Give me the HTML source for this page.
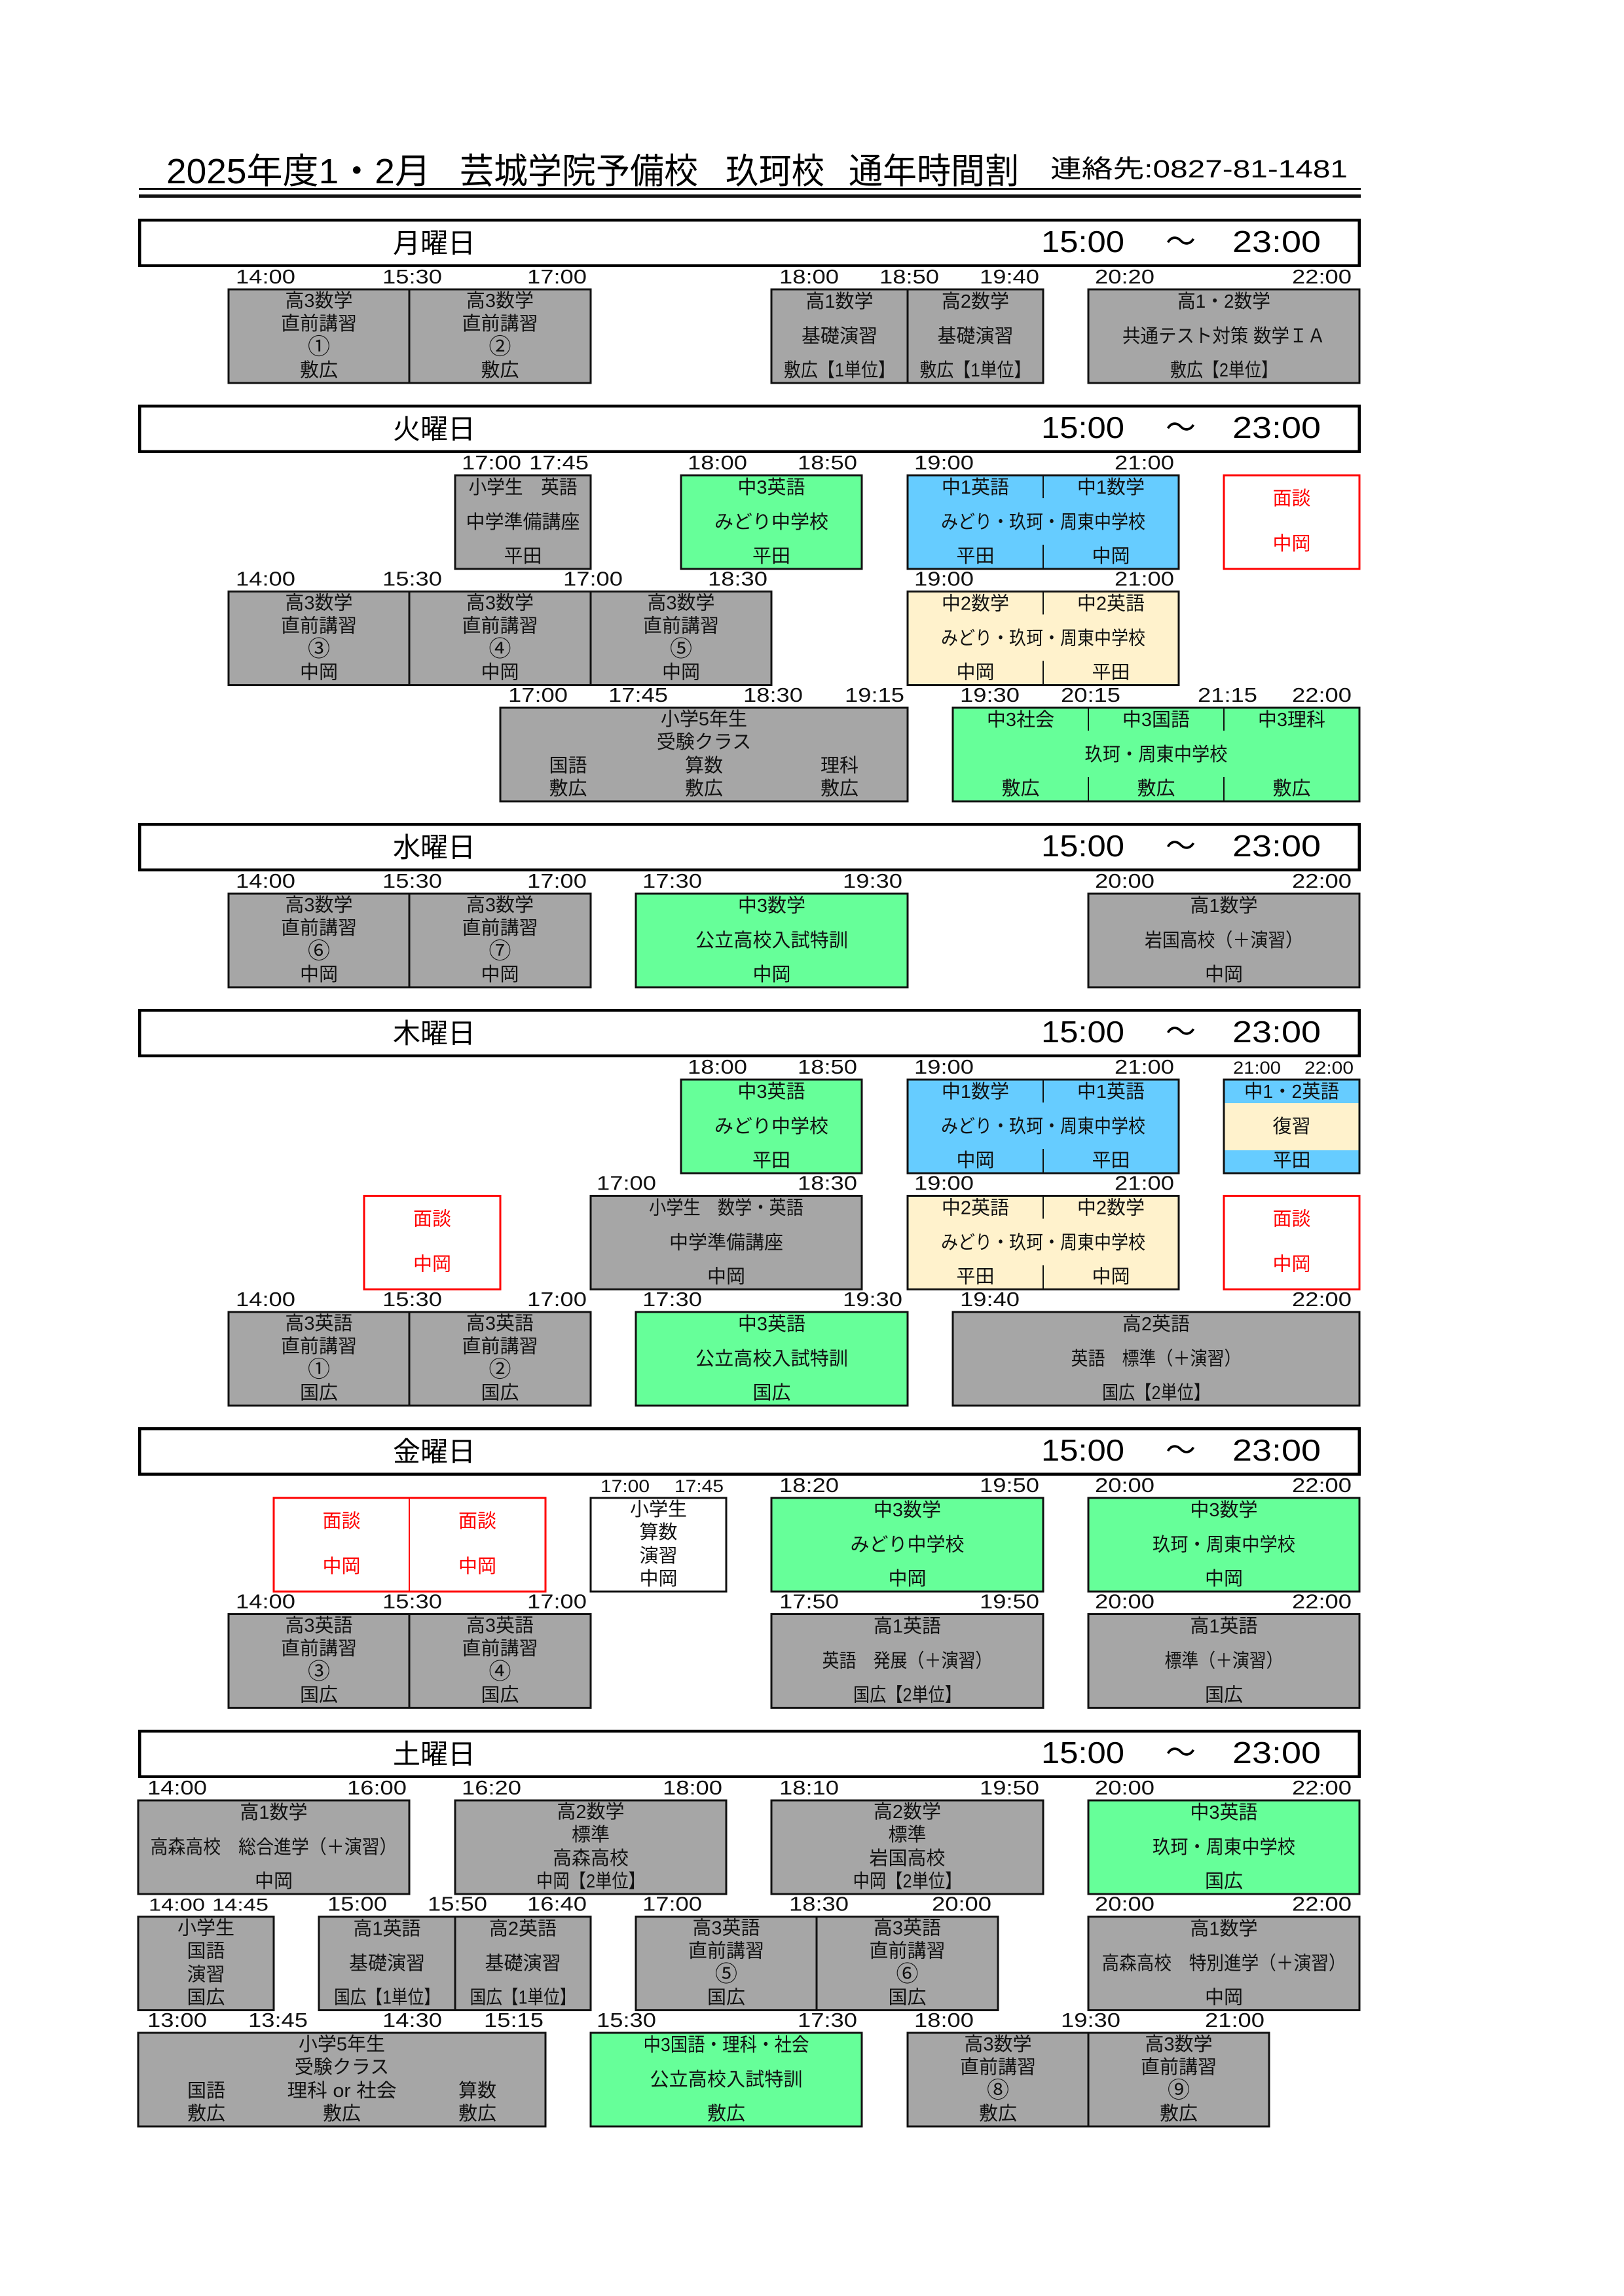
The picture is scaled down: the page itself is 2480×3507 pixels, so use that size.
<!DOCTYPE html>
<html><head><meta charset="utf-8"><style>
html,body{margin:0;padding:0;background:#fff;}
svg{display:block}
text{font-family:"Liberation Sans","Noto Sans CJK JP",sans-serif;fill:#111}
.c{font-size:29px;text-anchor:middle}
.cn{font-size:34px}
.l{font-size:31px}
.s{font-size:27px}
.d{font-size:42px;text-anchor:middle;fill:#000}
.h{font-size:46px;fill:#000}
.tt{font-size:54px;fill:#000}
.rt{fill:#f00}
.b{stroke:#111;stroke-width:3}
.g{fill:#a6a6a6}
.gr{fill:#66ff99}
.bl{fill:#66ccff}
.be{fill:#fff2cc}
.w{fill:#fff}
.r{fill:#fff;stroke:#f00;stroke-width:3}
.dv{stroke:#111;stroke-width:2}
.hb{fill:#fff;stroke:#000;stroke-width:4.5}
</style></head><body>
<svg width="2480" height="3507" viewBox="0 0 2480 3507" xmlns="http://www.w3.org/2000/svg">
<rect x="0" y="0" width="2480" height="3507" fill="#fff"/>

<!-- Title -->
<text class="tt" x="254" y="280" textLength="404" lengthAdjust="spacingAndGlyphs">2025年度1・2月</text>
<text class="tt" x="702" y="280" textLength="364" lengthAdjust="spacingAndGlyphs">芸城学院予備校</text>
<text class="tt" x="1108" y="280" textLength="151" lengthAdjust="spacingAndGlyphs">玖珂校</text>
<text class="tt" x="1296" y="280" textLength="260" lengthAdjust="spacingAndGlyphs">通年時間割</text>
<text x="1604" y="271" style="font-size:38px;fill:#000" textLength="454" lengthAdjust="spacingAndGlyphs">連絡先:0827-81-1481</text>
<rect x="212" y="287" width="1866" height="3" fill="#111"/>
<rect x="212" y="297" width="1866" height="5" fill="#111"/>

<!-- Headers -->
<rect class="hb" x="213.25" y="336.25" width="1862.5" height="69.5"/>
<text class="d" x="663" y="386">月曜日</text>
<text class="h" x="1590" y="385" textLength="127" lengthAdjust="spacingAndGlyphs">15:00</text>
<text class="h" x="1803" y="385" text-anchor="middle">～</text>
<text class="h" x="1882" y="385" textLength="135" lengthAdjust="spacingAndGlyphs">23:00</text>

<rect class="hb" x="213.25" y="620.25" width="1862.5" height="69.5"/>
<text class="d" x="663" y="670">火曜日</text>
<text class="h" x="1590" y="669" textLength="127" lengthAdjust="spacingAndGlyphs">15:00</text>
<text class="h" x="1803" y="669" text-anchor="middle">～</text>
<text class="h" x="1882" y="669" textLength="135" lengthAdjust="spacingAndGlyphs">23:00</text>

<rect class="hb" x="213.25" y="1259.25" width="1862.5" height="69.5"/>
<text class="d" x="663" y="1309">水曜日</text>
<text class="h" x="1590" y="1308" textLength="127" lengthAdjust="spacingAndGlyphs">15:00</text>
<text class="h" x="1803" y="1308" text-anchor="middle">～</text>
<text class="h" x="1882" y="1308" textLength="135" lengthAdjust="spacingAndGlyphs">23:00</text>

<rect class="hb" x="213.25" y="1543.25" width="1862.5" height="69.5"/>
<text class="d" x="663" y="1593">木曜日</text>
<text class="h" x="1590" y="1592" textLength="127" lengthAdjust="spacingAndGlyphs">15:00</text>
<text class="h" x="1803" y="1592" text-anchor="middle">～</text>
<text class="h" x="1882" y="1592" textLength="135" lengthAdjust="spacingAndGlyphs">23:00</text>

<rect class="hb" x="213.25" y="2182.25" width="1862.5" height="69.5"/>
<text class="d" x="663" y="2232">金曜日</text>
<text class="h" x="1590" y="2231" textLength="127" lengthAdjust="spacingAndGlyphs">15:00</text>
<text class="h" x="1803" y="2231" text-anchor="middle">～</text>
<text class="h" x="1882" y="2231" textLength="135" lengthAdjust="spacingAndGlyphs">23:00</text>

<rect class="hb" x="213.25" y="2644.25" width="1862.5" height="69.5"/>
<text class="d" x="663" y="2694">土曜日</text>
<text class="h" x="1590" y="2693" textLength="127" lengthAdjust="spacingAndGlyphs">15:00</text>
<text class="h" x="1803" y="2693" text-anchor="middle">～</text>
<text class="h" x="1882" y="2693" textLength="135" lengthAdjust="spacingAndGlyphs">23:00</text>

<!-- ===== MONDAY ===== -->
<text class="l" x="360" y="433" textLength="91" lengthAdjust="spacingAndGlyphs">14:00</text>
<text class="l" x="584" y="433" textLength="91" lengthAdjust="spacingAndGlyphs">15:30</text>
<text class="l" x="805" y="433" textLength="91" lengthAdjust="spacingAndGlyphs">17:00</text>
<text class="l" x="1190" y="433" textLength="91" lengthAdjust="spacingAndGlyphs">18:00</text>
<text class="l" x="1343" y="433" textLength="91" lengthAdjust="spacingAndGlyphs">18:50</text>
<text class="l" x="1496" y="433" textLength="91" lengthAdjust="spacingAndGlyphs">19:40</text>
<text class="l" x="1672" y="433" textLength="91" lengthAdjust="spacingAndGlyphs">20:20</text>
<text class="l" x="1973" y="433" textLength="91" lengthAdjust="spacingAndGlyphs">22:00</text>

<rect class="g b" x="349" y="442" width="276" height="143"/>
<rect class="g b" x="625" y="442" width="277" height="143"/>
<rect class="g b" x="1178" y="442" width="208" height="143"/>
<rect class="g b" x="1386" y="442" width="207" height="143"/>
<rect class="g b" x="1662" y="442" width="414" height="143"/>
<text class="c" x="487" y="469">高3数学</text><text class="c" x="487" y="504">直前講習</text><text class="c cn" x="487" y="541">①</text><text class="c" x="487" y="575">敷広</text>
<text class="c" x="763.5" y="469">高3数学</text><text class="c" x="763.5" y="504">直前講習</text><text class="c cn" x="763.5" y="541">②</text><text class="c" x="763.5" y="575">敷広</text>
<text class="c" x="1282" y="470">高1数学</text><text class="c" x="1282" y="523">基礎演習</text><text class="c" x="1282" y="575" textLength="170" lengthAdjust="spacingAndGlyphs">敷広【1単位】</text>
<text class="c" x="1489.5" y="470">高2数学</text><text class="c" x="1489.5" y="523">基礎演習</text><text class="c" x="1489.5" y="575" textLength="170" lengthAdjust="spacingAndGlyphs">敷広【1単位】</text>
<text class="c" x="1869" y="470" textLength="142" lengthAdjust="spacingAndGlyphs">高1・2数学</text><text class="c" x="1869" y="523" textLength="310" lengthAdjust="spacingAndGlyphs">共通テスト対策 数学ＩＡ</text><text class="c" x="1869" y="575" textLength="164" lengthAdjust="spacingAndGlyphs">敷広【2単位】</text>

<!-- ===== TUESDAY row1 ===== -->
<text class="l" x="705" y="717" textLength="91" lengthAdjust="spacingAndGlyphs">17:00</text>
<text class="l" x="808" y="717" textLength="91" lengthAdjust="spacingAndGlyphs">17:45</text>
<text class="l" x="1050" y="717" textLength="91" lengthAdjust="spacingAndGlyphs">18:00</text>
<text class="l" x="1218" y="717" textLength="91" lengthAdjust="spacingAndGlyphs">18:50</text>
<text class="l" x="1396" y="717" textLength="91" lengthAdjust="spacingAndGlyphs">19:00</text>
<text class="l" x="1702" y="717" textLength="91" lengthAdjust="spacingAndGlyphs">21:00</text>

<rect class="g b" x="695" y="726" width="207" height="143"/>
<rect class="gr b" x="1040" y="726" width="276" height="143"/>
<rect class="bl b" x="1386" y="726" width="414" height="143"/>
<line class="dv" x1="1593" y1="726" x2="1593" y2="761"/><line class="dv" x1="1593" y1="832" x2="1593" y2="869"/>
<rect class="r" x="1869" y="726" width="207" height="143"/>
<text class="c" x="798.5" y="754" textLength="166" lengthAdjust="spacingAndGlyphs">小学生　英語</text><text class="c" x="798.5" y="807">中学準備講座</text><text class="c" x="798.5" y="859">平田</text>
<text class="c" x="1178" y="754">中3英語</text><text class="c" x="1178" y="807">みどり中学校</text><text class="c" x="1178" y="859">平田</text>
<text class="c" x="1489.5" y="754">中1英語</text><text class="c" x="1696.5" y="754">中1数学</text>
<text class="c" x="1593" y="807" textLength="312" lengthAdjust="spacingAndGlyphs">みどり・玖珂・周東中学校</text>
<text class="c" x="1489.5" y="859">平田</text><text class="c" x="1696.5" y="859">中岡</text>
<text class="c rt" x="1972.5" y="771">面談</text><text class="c rt" x="1972.5" y="840">中岡</text>

<!-- TUESDAY row2 -->
<text class="l" x="360" y="894.5" textLength="91" lengthAdjust="spacingAndGlyphs">14:00</text>
<text class="l" x="584" y="894.5" textLength="91" lengthAdjust="spacingAndGlyphs">15:30</text>
<text class="l" x="860" y="894.5" textLength="91" lengthAdjust="spacingAndGlyphs">17:00</text>
<text class="l" x="1081" y="894.5" textLength="91" lengthAdjust="spacingAndGlyphs">18:30</text>
<text class="l" x="1396" y="894.5" textLength="91" lengthAdjust="spacingAndGlyphs">19:00</text>
<text class="l" x="1702" y="894.5" textLength="91" lengthAdjust="spacingAndGlyphs">21:00</text>

<rect class="g b" x="349" y="903.5" width="276" height="143"/>
<rect class="g b" x="625" y="903.5" width="277" height="143"/>
<rect class="g b" x="902" y="903.5" width="276" height="143"/>
<rect class="be b" x="1386" y="903.5" width="414" height="143"/>
<line class="dv" x1="1593" y1="903.5" x2="1593" y2="938.5"/><line class="dv" x1="1593" y1="1009.5" x2="1593" y2="1046.5"/>
<text class="c" x="487" y="930.5">高3数学</text><text class="c" x="487" y="965.5">直前講習</text><text class="c cn" x="487" y="1002.5">③</text><text class="c" x="487" y="1036.5">中岡</text>
<text class="c" x="763.5" y="930.5">高3数学</text><text class="c" x="763.5" y="965.5">直前講習</text><text class="c cn" x="763.5" y="1002.5">④</text><text class="c" x="763.5" y="1036.5">中岡</text>
<text class="c" x="1040" y="930.5">高3数学</text><text class="c" x="1040" y="965.5">直前講習</text><text class="c cn" x="1040" y="1002.5">⑤</text><text class="c" x="1040" y="1036.5">中岡</text>
<text class="c" x="1489.5" y="931.5">中2数学</text><text class="c" x="1696.5" y="931.5">中2英語</text>
<text class="c" x="1593" y="984.5" textLength="312" lengthAdjust="spacingAndGlyphs">みどり・玖珂・周東中学校</text>
<text class="c" x="1489.5" y="1036.5">中岡</text><text class="c" x="1696.5" y="1036.5">平田</text>

<!-- TUESDAY row3 -->
<text class="l" x="776" y="1072" textLength="91" lengthAdjust="spacingAndGlyphs">17:00</text>
<text class="l" x="929" y="1072" textLength="91" lengthAdjust="spacingAndGlyphs">17:45</text>
<text class="l" x="1135" y="1072" textLength="91" lengthAdjust="spacingAndGlyphs">18:30</text>
<text class="l" x="1290" y="1072" textLength="91" lengthAdjust="spacingAndGlyphs">19:15</text>
<text class="l" x="1466" y="1072" textLength="91" lengthAdjust="spacingAndGlyphs">19:30</text>
<text class="l" x="1620" y="1072" textLength="91" lengthAdjust="spacingAndGlyphs">20:15</text>
<text class="l" x="1829" y="1072" textLength="91" lengthAdjust="spacingAndGlyphs">21:15</text>
<text class="l" x="1973" y="1072" textLength="91" lengthAdjust="spacingAndGlyphs">22:00</text>

<rect class="g b" x="764" y="1081" width="622" height="143"/>
<rect class="gr b" x="1455" y="1081" width="621" height="143"/>
<line class="dv" x1="1662" y1="1081" x2="1662" y2="1116"/><line class="dv" x1="1662" y1="1187" x2="1662" y2="1224"/>
<line class="dv" x1="1869" y1="1081" x2="1869" y2="1116"/><line class="dv" x1="1869" y1="1187" x2="1869" y2="1224"/>
<text class="c" x="1075" y="1108">小学5年生</text><text class="c" x="1075" y="1143">受験クラス</text>
<text class="c" x="867.5" y="1179">国語</text><text class="c" x="1075" y="1179">算数</text><text class="c" x="1282" y="1179">理科</text>
<text class="c" x="867.5" y="1214">敷広</text><text class="c" x="1075" y="1214">敷広</text><text class="c" x="1282" y="1214">敷広</text>
<text class="c" x="1558.5" y="1109">中3社会</text><text class="c" x="1765.5" y="1109">中3国語</text><text class="c" x="1972.5" y="1109">中3理科</text>
<text class="c" x="1765.5" y="1162" textLength="218" lengthAdjust="spacingAndGlyphs">玖珂・周東中学校</text>
<text class="c" x="1558.5" y="1214">敷広</text><text class="c" x="1765.5" y="1214">敷広</text><text class="c" x="1972.5" y="1214">敷広</text>

<!-- ===== WEDNESDAY ===== -->
<text class="l" x="360" y="1356" textLength="91" lengthAdjust="spacingAndGlyphs">14:00</text>
<text class="l" x="584" y="1356" textLength="91" lengthAdjust="spacingAndGlyphs">15:30</text>
<text class="l" x="805" y="1356" textLength="91" lengthAdjust="spacingAndGlyphs">17:00</text>
<text class="l" x="981" y="1356" textLength="91" lengthAdjust="spacingAndGlyphs">17:30</text>
<text class="l" x="1287" y="1356" textLength="91" lengthAdjust="spacingAndGlyphs">19:30</text>
<text class="l" x="1672" y="1356" textLength="91" lengthAdjust="spacingAndGlyphs">20:00</text>
<text class="l" x="1973" y="1356" textLength="91" lengthAdjust="spacingAndGlyphs">22:00</text>

<rect class="g b" x="349" y="1365" width="276" height="143"/>
<rect class="g b" x="625" y="1365" width="277" height="143"/>
<rect class="gr b" x="971" y="1365" width="415" height="143"/>
<rect class="g b" x="1662" y="1365" width="414" height="143"/>
<text class="c" x="487" y="1392">高3数学</text><text class="c" x="487" y="1427">直前講習</text><text class="c cn" x="487" y="1464">⑥</text><text class="c" x="487" y="1498">中岡</text>
<text class="c" x="763.5" y="1392">高3数学</text><text class="c" x="763.5" y="1427">直前講習</text><text class="c cn" x="763.5" y="1464">⑦</text><text class="c" x="763.5" y="1498">中岡</text>
<text class="c" x="1178.5" y="1393">中3数学</text><text class="c" x="1178.5" y="1446" textLength="233" lengthAdjust="spacingAndGlyphs">公立高校入試特訓</text><text class="c" x="1178.5" y="1498">中岡</text>
<text class="c" x="1869" y="1393">高1数学</text><text class="c" x="1869" y="1446" textLength="242" lengthAdjust="spacingAndGlyphs">岩国高校（＋演習）</text><text class="c" x="1869" y="1498">中岡</text>

<!-- ===== THURSDAY row1 ===== -->
<text class="l" x="1050" y="1640" textLength="91" lengthAdjust="spacingAndGlyphs">18:00</text>
<text class="l" x="1218" y="1640" textLength="91" lengthAdjust="spacingAndGlyphs">18:50</text>
<text class="l" x="1396" y="1640" textLength="91" lengthAdjust="spacingAndGlyphs">19:00</text>
<text class="l" x="1702" y="1640" textLength="91" lengthAdjust="spacingAndGlyphs">21:00</text>
<text class="s" x="1883" y="1640" textLength="73" lengthAdjust="spacingAndGlyphs">21:00</text>
<text class="s" x="1992" y="1640" textLength="75" lengthAdjust="spacingAndGlyphs">22:00</text>

<rect class="gr b" x="1040" y="1649" width="276" height="143"/>
<rect class="bl b" x="1386" y="1649" width="414" height="143"/>
<line class="dv" x1="1593" y1="1649" x2="1593" y2="1684"/><line class="dv" x1="1593" y1="1755" x2="1593" y2="1792"/>
<rect class="bl" x="1869" y="1649" width="207" height="143"/>
<rect class="be" x="1869" y="1685" width="207" height="72"/>
<rect x="1869" y="1649" width="207" height="143" fill="none" class="b"/>
<text class="c" x="1178" y="1677">中3英語</text><text class="c" x="1178" y="1730">みどり中学校</text><text class="c" x="1178" y="1782">平田</text>
<text class="c" x="1489.5" y="1677">中1数学</text><text class="c" x="1696.5" y="1677">中1英語</text>
<text class="c" x="1593" y="1730" textLength="312" lengthAdjust="spacingAndGlyphs">みどり・玖珂・周東中学校</text>
<text class="c" x="1489.5" y="1782">中岡</text><text class="c" x="1696.5" y="1782">平田</text>
<text class="c" x="1972.5" y="1677" textLength="145" lengthAdjust="spacingAndGlyphs">中1・2英語</text><text class="c" x="1972.5" y="1730">復習</text><text class="c" x="1972.5" y="1782">平田</text>

<!-- THURSDAY row2 -->
<text class="l" x="911" y="1817.5" textLength="91" lengthAdjust="spacingAndGlyphs">17:00</text>
<text class="l" x="1218" y="1817.5" textLength="91" lengthAdjust="spacingAndGlyphs">18:30</text>
<text class="l" x="1396" y="1817.5" textLength="91" lengthAdjust="spacingAndGlyphs">19:00</text>
<text class="l" x="1702" y="1817.5" textLength="91" lengthAdjust="spacingAndGlyphs">21:00</text>

<rect class="r" x="556" y="1826.5" width="208" height="143"/>
<rect class="g b" x="902" y="1826.5" width="414" height="143"/>
<rect class="be b" x="1386" y="1826.5" width="414" height="143"/>
<line class="dv" x1="1593" y1="1826.5" x2="1593" y2="1861.5"/><line class="dv" x1="1593" y1="1932.5" x2="1593" y2="1969.5"/>
<rect class="r" x="1869" y="1826.5" width="207" height="143"/>
<text class="c rt" x="660" y="1871.5">面談</text><text class="c rt" x="660" y="1940.5">中岡</text>
<text class="c" x="1109" y="1854.5" textLength="236" lengthAdjust="spacingAndGlyphs">小学生　数学・英語</text><text class="c" x="1109" y="1907.5">中学準備講座</text><text class="c" x="1109" y="1959.5">中岡</text>
<text class="c" x="1489.5" y="1854.5">中2英語</text><text class="c" x="1696.5" y="1854.5">中2数学</text>
<text class="c" x="1593" y="1907.5" textLength="312" lengthAdjust="spacingAndGlyphs">みどり・玖珂・周東中学校</text>
<text class="c" x="1489.5" y="1959.5">平田</text><text class="c" x="1696.5" y="1959.5">中岡</text>
<text class="c rt" x="1972.5" y="1871.5">面談</text><text class="c rt" x="1972.5" y="1940.5">中岡</text>

<!-- THURSDAY row3 -->
<text class="l" x="360" y="1995" textLength="91" lengthAdjust="spacingAndGlyphs">14:00</text>
<text class="l" x="584" y="1995" textLength="91" lengthAdjust="spacingAndGlyphs">15:30</text>
<text class="l" x="805" y="1995" textLength="91" lengthAdjust="spacingAndGlyphs">17:00</text>
<text class="l" x="981" y="1995" textLength="91" lengthAdjust="spacingAndGlyphs">17:30</text>
<text class="l" x="1287" y="1995" textLength="91" lengthAdjust="spacingAndGlyphs">19:30</text>
<text class="l" x="1466" y="1995" textLength="91" lengthAdjust="spacingAndGlyphs">19:40</text>
<text class="l" x="1973" y="1995" textLength="91" lengthAdjust="spacingAndGlyphs">22:00</text>

<rect class="g b" x="349" y="2004" width="276" height="143"/>
<rect class="g b" x="625" y="2004" width="277" height="143"/>
<rect class="gr b" x="971" y="2004" width="415" height="143"/>
<rect class="g b" x="1455" y="2004" width="621" height="143"/>
<text class="c" x="487" y="2031">高3英語</text><text class="c" x="487" y="2066">直前講習</text><text class="c cn" x="487" y="2103">①</text><text class="c" x="487" y="2137">国広</text>
<text class="c" x="763.5" y="2031">高3英語</text><text class="c" x="763.5" y="2066">直前講習</text><text class="c cn" x="763.5" y="2103">②</text><text class="c" x="763.5" y="2137">国広</text>
<text class="c" x="1178.5" y="2032">中3英語</text><text class="c" x="1178.5" y="2085" textLength="233" lengthAdjust="spacingAndGlyphs">公立高校入試特訓</text><text class="c" x="1178.5" y="2137">国広</text>
<text class="c" x="1765.5" y="2032">高2英語</text><text class="c" x="1765.5" y="2085" textLength="260" lengthAdjust="spacingAndGlyphs">英語　標準（＋演習）</text><text class="c" x="1765.5" y="2137" textLength="165" lengthAdjust="spacingAndGlyphs">国広【2単位】</text>

<!-- ===== FRIDAY row1 ===== -->
<text class="s" x="917" y="2279" textLength="75" lengthAdjust="spacingAndGlyphs">17:00</text>
<text class="s" x="1030" y="2279" textLength="75" lengthAdjust="spacingAndGlyphs">17:45</text>
<text class="l" x="1190" y="2279" textLength="91" lengthAdjust="spacingAndGlyphs">18:20</text>
<text class="l" x="1496" y="2279" textLength="91" lengthAdjust="spacingAndGlyphs">19:50</text>
<text class="l" x="1672" y="2279" textLength="91" lengthAdjust="spacingAndGlyphs">20:00</text>
<text class="l" x="1973" y="2279" textLength="91" lengthAdjust="spacingAndGlyphs">22:00</text>

<rect class="r" x="418" y="2288" width="415" height="143"/>
<line x1="625" y1="2288" x2="625" y2="2431" stroke="#f00" stroke-width="2"/>
<rect class="w b" x="902" y="2288" width="207" height="143"/>
<rect class="gr b" x="1178" y="2288" width="415" height="143"/>
<rect class="gr b" x="1662" y="2288" width="414" height="143"/>
<text class="c rt" x="521.5" y="2333">面談</text><text class="c rt" x="521.5" y="2402">中岡</text>
<text class="c rt" x="729" y="2333">面談</text><text class="c rt" x="729" y="2402">中岡</text>
<text class="c" x="1005.5" y="2315">小学生</text><text class="c" x="1005.5" y="2350">算数</text><text class="c" x="1005.5" y="2386">演習</text><text class="c" x="1005.5" y="2421">中岡</text>
<text class="c" x="1385.5" y="2316">中3数学</text><text class="c" x="1385.5" y="2369">みどり中学校</text><text class="c" x="1385.5" y="2421">中岡</text>
<text class="c" x="1869" y="2316">中3数学</text><text class="c" x="1869" y="2369" textLength="218" lengthAdjust="spacingAndGlyphs">玖珂・周東中学校</text><text class="c" x="1869" y="2421">中岡</text>

<!-- FRIDAY row2 -->
<text class="l" x="360" y="2456.5" textLength="91" lengthAdjust="spacingAndGlyphs">14:00</text>
<text class="l" x="584" y="2456.5" textLength="91" lengthAdjust="spacingAndGlyphs">15:30</text>
<text class="l" x="805" y="2456.5" textLength="91" lengthAdjust="spacingAndGlyphs">17:00</text>
<text class="l" x="1190" y="2456.5" textLength="91" lengthAdjust="spacingAndGlyphs">17:50</text>
<text class="l" x="1496" y="2456.5" textLength="91" lengthAdjust="spacingAndGlyphs">19:50</text>
<text class="l" x="1672" y="2456.5" textLength="91" lengthAdjust="spacingAndGlyphs">20:00</text>
<text class="l" x="1973" y="2456.5" textLength="91" lengthAdjust="spacingAndGlyphs">22:00</text>

<rect class="g b" x="349" y="2465.5" width="276" height="143"/>
<rect class="g b" x="625" y="2465.5" width="277" height="143"/>
<rect class="g b" x="1178" y="2465.5" width="415" height="143"/>
<rect class="g b" x="1662" y="2465.5" width="414" height="143"/>
<text class="c" x="487" y="2492.5">高3英語</text><text class="c" x="487" y="2527.5">直前講習</text><text class="c cn" x="487" y="2564.5">③</text><text class="c" x="487" y="2598.5">国広</text>
<text class="c" x="763.5" y="2492.5">高3英語</text><text class="c" x="763.5" y="2527.5">直前講習</text><text class="c cn" x="763.5" y="2564.5">④</text><text class="c" x="763.5" y="2598.5">国広</text>
<text class="c" x="1385.5" y="2493.5">高1英語</text><text class="c" x="1385.5" y="2546.5" textLength="260" lengthAdjust="spacingAndGlyphs">英語　発展（＋演習）</text><text class="c" x="1385.5" y="2598.5" textLength="165" lengthAdjust="spacingAndGlyphs">国広【2単位】</text>
<text class="c" x="1869" y="2493.5">高1英語</text><text class="c" x="1869" y="2546.5" textLength="181" lengthAdjust="spacingAndGlyphs">標準（＋演習）</text><text class="c" x="1869" y="2598.5">国広</text>

<!-- ===== SATURDAY row1 ===== -->
<text class="l" x="225" y="2741" textLength="91" lengthAdjust="spacingAndGlyphs">14:00</text>
<text class="l" x="530" y="2741" textLength="91" lengthAdjust="spacingAndGlyphs">16:00</text>
<text class="l" x="705" y="2741" textLength="91" lengthAdjust="spacingAndGlyphs">16:20</text>
<text class="l" x="1012" y="2741" textLength="91" lengthAdjust="spacingAndGlyphs">18:00</text>
<text class="l" x="1190" y="2741" textLength="91" lengthAdjust="spacingAndGlyphs">18:10</text>
<text class="l" x="1496" y="2741" textLength="91" lengthAdjust="spacingAndGlyphs">19:50</text>
<text class="l" x="1672" y="2741" textLength="91" lengthAdjust="spacingAndGlyphs">20:00</text>
<text class="l" x="1973" y="2741" textLength="91" lengthAdjust="spacingAndGlyphs">22:00</text>

<rect class="g b" x="211" y="2750" width="414" height="143"/>
<rect class="g b" x="695" y="2750" width="414" height="143"/>
<rect class="g b" x="1178" y="2750" width="415" height="143"/>
<rect class="gr b" x="1662" y="2750" width="414" height="143"/>
<text class="c" x="418" y="2778">高1数学</text><text class="c" x="418" y="2831" textLength="377" lengthAdjust="spacingAndGlyphs">高森高校　総合進学（＋演習）</text><text class="c" x="418" y="2883">中岡</text>
<text class="c" x="902" y="2777">高2数学</text><text class="c" x="902" y="2812">標準</text><text class="c" x="902" y="2848">高森高校</text><text class="c" x="902" y="2883" textLength="166" lengthAdjust="spacingAndGlyphs">中岡【2単位】</text>
<text class="c" x="1385.5" y="2777">高2数学</text><text class="c" x="1385.5" y="2812">標準</text><text class="c" x="1385.5" y="2848">岩国高校</text><text class="c" x="1385.5" y="2883" textLength="166" lengthAdjust="spacingAndGlyphs">中岡【2単位】</text>
<text class="c" x="1869" y="2778">中3英語</text><text class="c" x="1869" y="2831" textLength="218" lengthAdjust="spacingAndGlyphs">玖珂・周東中学校</text><text class="c" x="1869" y="2883">国広</text>

<!-- SATURDAY row2 -->
<text class="s" x="227" y="2918.5" textLength="86" lengthAdjust="spacingAndGlyphs">14:00</text>
<text class="s" x="324" y="2918.5" textLength="86" lengthAdjust="spacingAndGlyphs">14:45</text>
<text class="l" x="500" y="2918.5" textLength="91" lengthAdjust="spacingAndGlyphs">15:00</text>
<text class="l" x="653" y="2918.5" textLength="91" lengthAdjust="spacingAndGlyphs">15:50</text>
<text class="l" x="805" y="2918.5" textLength="91" lengthAdjust="spacingAndGlyphs">16:40</text>
<text class="l" x="981" y="2918.5" textLength="91" lengthAdjust="spacingAndGlyphs">17:00</text>
<text class="l" x="1205" y="2918.5" textLength="91" lengthAdjust="spacingAndGlyphs">18:30</text>
<text class="l" x="1423" y="2918.5" textLength="91" lengthAdjust="spacingAndGlyphs">20:00</text>
<text class="l" x="1672" y="2918.5" textLength="91" lengthAdjust="spacingAndGlyphs">20:00</text>
<text class="l" x="1973" y="2918.5" textLength="91" lengthAdjust="spacingAndGlyphs">22:00</text>

<rect class="g b" x="211" y="2927.5" width="207" height="143"/>
<rect class="g b" x="487" y="2927.5" width="208" height="143"/>
<rect class="g b" x="695" y="2927.5" width="207" height="143"/>
<rect class="g b" x="971" y="2927.5" width="276" height="143"/>
<rect class="g b" x="1247" y="2927.5" width="277" height="143"/>
<rect class="g b" x="1662" y="2927.5" width="414" height="143"/>
<text class="c" x="314.5" y="2954.5">小学生</text><text class="c" x="314.5" y="2989.5">国語</text><text class="c" x="314.5" y="3025.5">演習</text><text class="c" x="314.5" y="3060.5">国広</text>
<text class="c" x="591" y="2955.5">高1英語</text><text class="c" x="591" y="3008.5">基礎演習</text><text class="c" x="591" y="3060.5" textLength="162" lengthAdjust="spacingAndGlyphs">国広【1単位】</text>
<text class="c" x="798.5" y="2955.5">高2英語</text><text class="c" x="798.5" y="3008.5">基礎演習</text><text class="c" x="798.5" y="3060.5" textLength="162" lengthAdjust="spacingAndGlyphs">国広【1単位】</text>
<text class="c" x="1109" y="2954.5">高3英語</text><text class="c" x="1109" y="2989.5">直前講習</text><text class="c cn" x="1109" y="3026.5">⑤</text><text class="c" x="1109" y="3060.5">国広</text>
<text class="c" x="1385.5" y="2954.5">高3英語</text><text class="c" x="1385.5" y="2989.5">直前講習</text><text class="c cn" x="1385.5" y="3026.5">⑥</text><text class="c" x="1385.5" y="3060.5">国広</text>
<text class="c" x="1869" y="2955.5">高1数学</text><text class="c" x="1869" y="3008.5" textLength="373" lengthAdjust="spacingAndGlyphs">高森高校　特別進学（＋演習）</text><text class="c" x="1869" y="3060.5">中岡</text>

<!-- SATURDAY row3 -->
<text class="l" x="225" y="3096" textLength="91" lengthAdjust="spacingAndGlyphs">13:00</text>
<text class="l" x="379" y="3096" textLength="91" lengthAdjust="spacingAndGlyphs">13:45</text>
<text class="l" x="584" y="3096" textLength="91" lengthAdjust="spacingAndGlyphs">14:30</text>
<text class="l" x="739" y="3096" textLength="91" lengthAdjust="spacingAndGlyphs">15:15</text>
<text class="l" x="911" y="3096" textLength="91" lengthAdjust="spacingAndGlyphs">15:30</text>
<text class="l" x="1218" y="3096" textLength="91" lengthAdjust="spacingAndGlyphs">17:30</text>
<text class="l" x="1396" y="3096" textLength="91" lengthAdjust="spacingAndGlyphs">18:00</text>
<text class="l" x="1620" y="3096" textLength="91" lengthAdjust="spacingAndGlyphs">19:30</text>
<text class="l" x="1840" y="3096" textLength="91" lengthAdjust="spacingAndGlyphs">21:00</text>

<rect class="g b" x="211" y="3105" width="622" height="143"/>
<rect class="gr b" x="902" y="3105" width="414" height="143"/>
<rect class="g b" x="1386" y="3105" width="276" height="143"/>
<rect class="g b" x="1662" y="3105" width="276" height="143"/>
<text class="c" x="522" y="3132">小学5年生</text><text class="c" x="522" y="3167">受験クラス</text>
<text class="c" x="315" y="3203">国語</text><text class="c" x="522" y="3203" textLength="167" lengthAdjust="spacingAndGlyphs">理科 or 社会</text><text class="c" x="729" y="3203">算数</text>
<text class="c" x="315" y="3238">敷広</text><text class="c" x="522" y="3238">敷広</text><text class="c" x="729" y="3238">敷広</text>
<text class="c" x="1109" y="3133" textLength="253" lengthAdjust="spacingAndGlyphs">中3国語・理科・社会</text><text class="c" x="1109" y="3186" textLength="233" lengthAdjust="spacingAndGlyphs">公立高校入試特訓</text><text class="c" x="1109" y="3238">敷広</text>
<text class="c" x="1524" y="3132">高3数学</text><text class="c" x="1524" y="3167">直前講習</text><text class="c cn" x="1524" y="3204">⑧</text><text class="c" x="1524" y="3238">敷広</text>
<text class="c" x="1800" y="3132">高3数学</text><text class="c" x="1800" y="3167">直前講習</text><text class="c cn" x="1800" y="3204">⑨</text><text class="c" x="1800" y="3238">敷広</text>
</svg>
</body></html>
